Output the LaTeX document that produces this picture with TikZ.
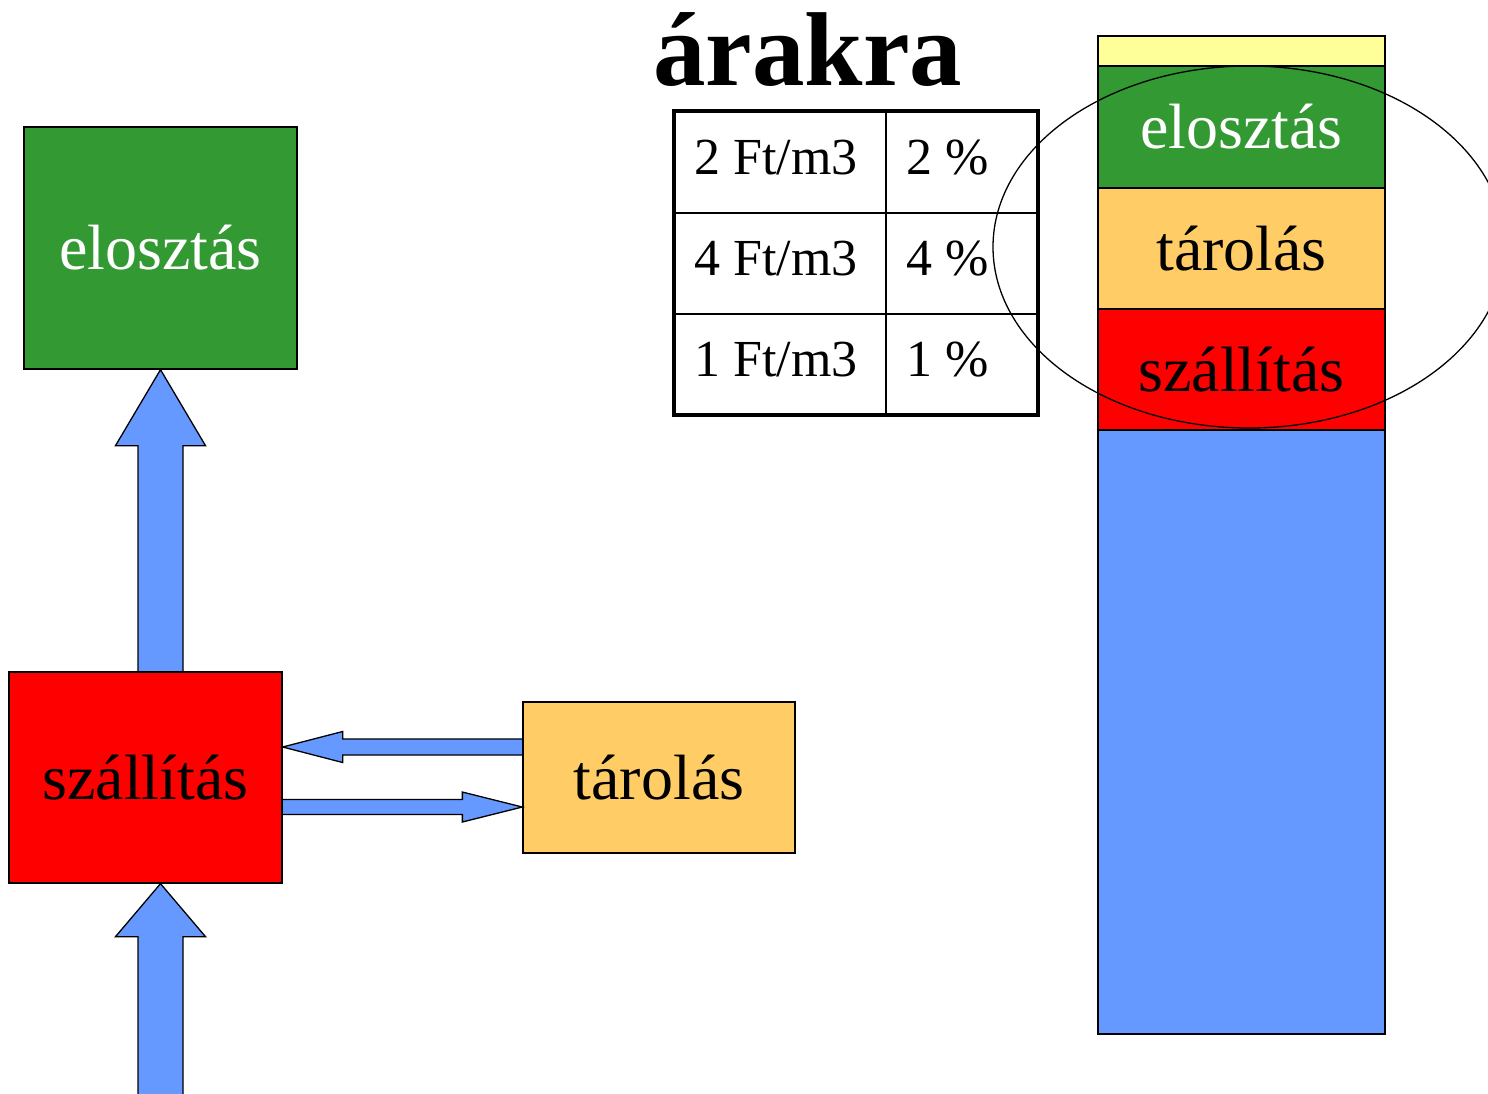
\documentclass[tikz,border=0pt]{standalone}
\usepackage{fontspec}
\setmainfont{Liberation Serif}
\usetikzlibrary{calc}
\definecolor{cgreen}{HTML}{339933}
\definecolor{cred}{HTML}{FF0000}
\definecolor{corange}{HTML}{FFCC66}
\definecolor{cyellow}{HTML}{FFFF99}
\definecolor{cblue}{HTML}{6699FF}
\newcommand\myBigFont{\fontsize{64}{72}\selectfont}
\newcommand\myTabFont{\fontsize{52}{60}\selectfont}
\newcommand\myTitleFont{\fontsize{105}{112}\selectfont\bfseries}
\begin{document}
\begin{tikzpicture}[x=1pt,y=-1pt,
  box/.style={draw=black, line width=1.3pt, inner sep=0pt, font=\myBigFont},
  seg/.style={draw=black, line width=1.3pt, inner sep=0pt, minimum width=287pt, font=\myBigFont},
  blockarrow/.style={draw=black, line width=1.3pt, fill=cblue, line join=miter},
  tabtext/.style={anchor=base west, inner sep=0pt, font=\myTabFont}]
\useasboundingbox (0,0) rectangle (1488,1093);
\clip (0,0) rectangle (1488,1093);

% left boxes
\node[box, fill=cgreen, text=white, minimum width=273pt, minimum height=242pt] (green) at (160.5,248) {elosztás};
\node[box, fill=cred, minimum width=273pt, minimum height=211pt] (red) at (145.5,777.5) {szállítás};
\node[box, fill=corange, minimum width=272pt, minimum height=151pt] (tar) at (659,777.5) {tárolás};

% vertical arrow red -> green
\coordinate (t1) at (green.south);
\coordinate (b1) at (green.south |- red.north);
\draw[blockarrow] ($(b1)+(-22.5,0)$) -- ($(t1)+(-22.5,76)$) -- ($(t1)+(-45,76)$) -- (t1)
  -- ($(t1)+(45,76)$) -- ($(t1)+(22.5,76)$) -- ($(b1)+(22.5,0)$);
% vertical arrow from below -> red
\coordinate (t2) at (green.south |- red.south);
\coordinate (b2) at ($(t2)+(0,240)$);
\draw[blockarrow] ($(b2)+(-22.5,0)$) -- ($(t2)+(-22.5,53)$) -- ($(t2)+(-45,53)$) -- (t2)
  -- ($(t2)+(45,53)$) -- ($(t2)+(22.5,53)$) -- ($(b2)+(22.5,0)$);
% horizontal arrow tar -> red
\coordinate (s3) at ($(tar.west)+(0,-30.5)$);
\coordinate (t3) at (red.east |- s3);
\draw[blockarrow] ($(s3)+(0,-8)$) -- ($(t3)+(60,-8)$) -- ($(t3)+(60,-15.5)$) -- (t3)
  -- ($(t3)+(60,15.5)$) -- ($(t3)+(60,8)$) -- ($(s3)+(0,8)$);
% horizontal arrow red -> tar
\coordinate (t4) at ($(tar.west)+(0,29.5)$);
\coordinate (s4) at (red.east |- t4);
\draw[blockarrow] ($(s4)+(0,-7.5)$) -- ($(t4)+(-60,-7.5)$) -- ($(t4)+(-60,-15)$) -- (t4)
  -- ($(t4)+(-60,15)$) -- ($(t4)+(-60,7.5)$) -- ($(s4)+(0,7.5)$);
% redraw box borders over arrow joins
\draw[line width=1.3pt] (red.south west) rectangle (red.north east);
\draw[line width=1.3pt] (green.south west) rectangle (green.north east);
\draw[line width=1.3pt] (tar.south west) rectangle (tar.north east);

% title
\node[anchor=base west, inner sep=0pt, font=\myTitleFont] (title) at (653,85) {árakra};

% table
\draw[line width=2pt] (886,111) -- (886,415);
\draw[line width=2pt] (674,213) -- (1038,213);
\draw[line width=2pt] (674,314) -- (1038,314);
\draw[line width=4pt] (674,111) rectangle (1038,415);
\node[tabtext] (r1a) at (694,174) {2 Ft/m3};
\node[tabtext] (r1b) at (906,174) {2 \%};
\node[tabtext] (r2a) at (694,275) {4 Ft/m3};
\node[tabtext] (r2b) at (906,275) {4 \%};
\node[tabtext] (r3a) at (694,376) {1 Ft/m3};
\node[tabtext] (r3b) at (906,376) {1 \%};

% stacked bar
\node[seg, fill=cyellow, minimum height=30pt] (sy) at (1241.5,51) {};
\node[seg, fill=cgreen, text=white, minimum height=122pt] (sg) at (1241.5,127) {elosztás};
\node[seg, fill=corange, minimum height=121pt] (so) at (1241.5,248.5) {tárolás};
\node[seg, fill=cred, minimum height=121pt] (sr) at (1241.5,369.5) {szállítás};
\node[seg, fill=cblue, minimum height=604pt] (sb) at (1241.5,732) {};

% ellipse
\draw[line width=1.3pt] (1249,247) ellipse [x radius=256pt, y radius=181pt];
\end{tikzpicture}
\end{document}
